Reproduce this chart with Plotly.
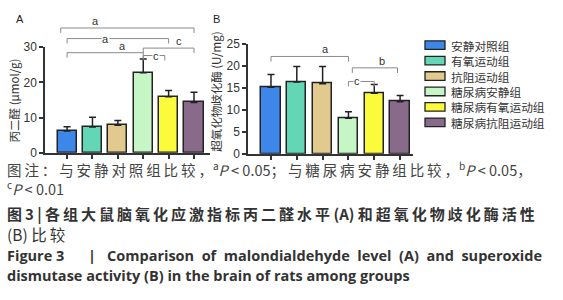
import plotly.graph_objects as go

# ---------------- data ----------------
groups = ["安静对照组", "有氧运动组", "抗阻运动组", "糖尿病安静组", "糖尿病有氧运动组", "糖尿病抗阻运动组"]
colors = ["#3d86ea", "#63d6b6", "#e2c98e", "#c6f5c6", "#fbfb3c", "#8a6a8a"]

mda_mean = [6.2, 7.3, 7.8, 22.7, 15.9, 14.3]
mda_err = [1.2, 2.8, 1.4, 3.9, 1.8, 2.9]
sod_mean = [15.2, 16.4, 16.0, 8.1, 13.8, 11.9]
sod_err = [2.9, 3.5, 3.9, 1.5, 2.0, 1.4]

mda_ticks = [0, 10, 20, 30]
sod_ticks = [0, 5, 10, 15, 20, 25]

# significance brackets: (start index, end index, height in data units, label, label index, label mode)
mda_brackets = [
    (-0.25, 5.0, 35.4, "a", 1.1, "above"),
    (0, 4, 32.4, "a", 1.5, "inline"),
    (0, 3, 28.4, "a", 2.2, "above"),
    (3, 5, 29.7, "c", 4.4, "above"),
    (3, 3.85, 27.6, "c", 3.5, "inline"),
]
sod_brackets = [
    (0, 3, 22.2, "a", 2.1, "above"),
    (3.15, 4.9, 19.6, "b", 4.3, "above"),
    (3, 4, 16.5, "c", 3.35, "inline"),
]

W, H = 563, 300
FONT = "Liberation Sans, Arial, sans-serif"
CJK = "Noto Sans CJK SC"
EN = "Open Sans"
AX = "#333333"
TS = "\u2009"  # thin space used as letter spacing
NB = "\u00a0"

xA_dom = [45 / W, 210 / W]
yA_dom = [1 - 153 / H, 1 - 42 / H]
xB_dom = [248 / W, 413 / W]
yB_dom = [1 - 154 / H, 1 - 39 / H]

fig = go.Figure()

idx = list(range(len(groups)))
for xa, ya, mean, err in [("x", "y", mda_mean, mda_err), ("x2", "y2", sod_mean, sod_err)]:
    fig.add_trace(go.Bar(
        x=idx, y=mean, xaxis=xa, yaxis=ya, width=0.75,
        marker=dict(color=colors, line=dict(color="#222222", width=1.5)),
        error_y=dict(type="data", symmetric=False, array=err, arrayminus=[0] * len(err),
                     color="#222222", thickness=1.5, width=3.5),
        showlegend=False, hoverinfo="skip",
    ))

axis_common = dict(showline=True, linecolor=AX, linewidth=1.5, ticks="outside", ticklen=4,
                   tickwidth=1.5, tickcolor=AX, showgrid=False, zeroline=False,
                   tickfont=dict(family=FONT, size=12, color="#333333"))

fig.update_layout(
    width=W, height=H, margin=dict(l=0, r=0, t=0, b=0),
    paper_bgcolor="white", plot_bgcolor="white", bargap=0,
    xaxis=dict(domain=xA_dom, range=[-0.87, 5.63], tickvals=idx, showticklabels=False, anchor="y", **axis_common),
    yaxis=dict(domain=yA_dom, range=[0, 30], tickvals=mda_ticks, anchor="x", **axis_common),
    xaxis2=dict(domain=xB_dom, range=[-0.89, 5.5], tickvals=idx, showticklabels=False, anchor="y2", **axis_common),
    yaxis2=dict(domain=yB_dom, range=[0, 25], tickvals=sod_ticks, anchor="x2", **axis_common),
)

shapes = []
annotations = []


def add_brackets(brackets, xref, ydom, ymax):
    def py(v):
        return ydom[0] + v / ymax * (ydom[1] - ydom[0])
    tick = 1.4 * ymax / 30
    for x0, x1, h, lab, lx, mode in brackets:
        shapes.append(dict(type="path", xref=xref, yref="paper",
                           path=f"M {x0},{py(h - tick)} L {x0},{py(h)} L {x1},{py(h)} L {x1},{py(h - tick)}",
                           line=dict(color="#8a8a8a", width=1)))
        if mode == "inline":
            annotations.append(dict(x=lx, y=py(h), xref=xref, yref="paper", text=lab, showarrow=False,
                                    font=dict(family=FONT, size=11, color="#333333"),
                                    bgcolor="white", borderpad=0, xanchor="center", yanchor="middle"))
        else:
            annotations.append(dict(x=lx, y=py(h), xref=xref, yref="paper", text=lab, showarrow=False,
                                    font=dict(family=FONT, size=11, color="#333333"),
                                    xanchor="center", yanchor="bottom", yshift=-1))


add_brackets(mda_brackets, "x", yA_dom, 30)
add_brackets(sod_brackets, "x2", yB_dom, 25)

# panel letters
annotations.append(dict(x=14 / W, y=1 - 13 / H, xref="paper", yref="paper", text="A", showarrow=False,
                        font=dict(family=FONT, size=11, color="#222"), xanchor="left", yanchor="middle"))
annotations.append(dict(x=211 / W, y=1 - 13 / H, xref="paper", yref="paper", text="B", showarrow=False,
                        font=dict(family=FONT, size=11, color="#222"), xanchor="left", yanchor="middle"))

# axis titles
annotations.append(dict(x=14 / W, y=1 - 98 / H, xref="paper", yref="paper", text="丙二醛 (μmol/g)",
                        textangle=-90, showarrow=False, font=dict(family=CJK, size=11.5, color="#333"),
                        xanchor="center", yanchor="middle"))
annotations.append(dict(x=216 / W, y=1 - 89 / H, xref="paper", yref="paper", text="超氧化物歧化酶 (U/mg)",
                        textangle=-90, showarrow=False, font=dict(family=CJK, size=11.5, color="#333"),
                        xanchor="center", yanchor="middle"))

# legend
for i, (g, c) in enumerate(zip(groups, colors)):
    yc = 40 + i * 16.2
    shapes.append(dict(type="rect", xref="paper", yref="paper",
                       x0=425 / W, x1=445 / W, y0=1 - (yc + 4.5) / H, y1=1 - (yc - 4.5) / H,
                       fillcolor=c, line=dict(color="#222222", width=1.3)))
    annotations.append(dict(x=449 / W, y=1 - yc / H, xref="paper", yref="paper", text=g,
                            font=dict(family=CJK, size=11.7, color="#333"), showarrow=False,
                            xanchor="left", yanchor="middle"))


def spaced(s, sep=TS):
    return sep.join(s)


# caption
cap_col = "#444444"
cap = [
    (5, 170, "left", spaced("图注：与安静对照组比较，") + "<sup>a</sup><i>P</i> &lt; 0.05" + spaced("；与糖尿病安静组比较，")
     + "<sup>b</sup><i>P</i> &lt; 0.05，", CJK, 14.5, cap_col),
    (5, 190, "left", "<sup>c</sup><i>P</i> &lt; 0.01", CJK, 14.5, cap_col),
    (5, 217, "left", "<b>" + spaced("图3") + " | " + spaced("各组大鼠脑氧化应激指标丙二醛水平") + " (A) "
     + spaced("和超氧化物歧化酶活性") + "</b>", CJK, 15, "#333"),
    (5, 238, "left", "(B) " + spaced("比较"), CJK, 15.5, "#333"),
    (5, 261, "left", "<b>Figure 3</b>", EN, 14.5, "#333"),
    (86, 261, "left", "<b>|</b>", EN, 14.5, "#333"),
    (105, 261, "left", "<b>" + (NB * 2).join("Comparison of malondialdehyde level (A) and superoxide".split(" ")) + "</b>",
     EN, 14.5, "#333"),
    (5, 282, "left", "<b>dismutase activity (B) in the brain of rats among groups</b>", EN, 14.5, "#333"),
]
for x, y, anc, t, fam, sz, col in cap:
    annotations.append(dict(x=x / W, y=1 - y / H, xref="paper", yref="paper", text=t, showarrow=False,
                            font=dict(family=fam, size=sz, color=col), xanchor=anc, yanchor="middle"))

fig.update_layout(shapes=shapes, annotations=annotations)
fig.write_html("out.html", config={"displayModeBar": False},
               post_script="document.body.style.margin='0';document.body.style.padding='0';")
